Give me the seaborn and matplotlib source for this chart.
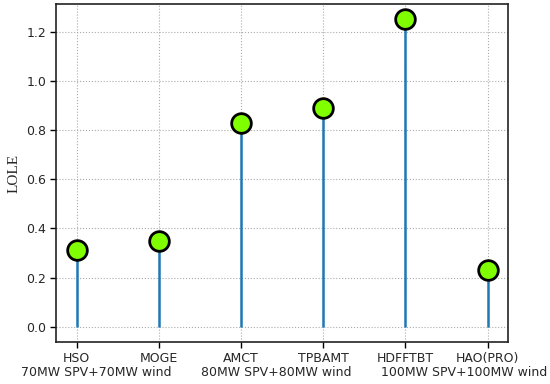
import matplotlib
matplotlib.use("Agg")
import matplotlib.pyplot as plt
import matplotlib.transforms as mtransforms
import seaborn as sns
import pandas as pd

methods = ["HSO", "MOGE", "AMCT", "TPBAMT", "HDFFTBT", "HAO(PRO)"]
lole = [0.31, 0.35, 0.83, 0.89, 1.25, 0.23]
groups = ["70MW SPV+70MW wind", "80MW SPV+80MW wind", "100MW SPV+100MW wind"]
group_pos = [0.24, 2.43, 4.71]

sns.set_style("white")
df = pd.DataFrame({"x": range(len(methods)), "LOLE": lole})

fig, ax = plt.subplots(figsize=(5.5, 3.84), dpi=100)
fig.subplots_adjust(left=0.102, right=0.924, top=0.99, bottom=0.109)

ax.vlines(df["x"], 0, df["LOLE"], color="#1f77b4", linewidth=1.8, zorder=2)
sns.scatterplot(data=df, x="x", y="LOLE", ax=ax, s=200, color="#7FFF00",
                edgecolor="black", linewidth=2, zorder=3, legend=False)
ax.set_ylim(-0.0625, 1.3125)
ax.set_xlim(-0.25, 5.25)
ax.set_xticks(range(len(methods)))
ax.set_xticklabels(methods, fontsize=9)
ax.set_yticks([0.0, 0.2, 0.4, 0.6, 0.8, 1.0, 1.2])
ax.set_yticklabels(["0.0", "0.2", "0.4", "0.6", "0.8", "1.0", "1.2"], fontsize=9)
ax.tick_params(axis="both", direction="out", length=4, width=1, color="black",
               bottom=True, left=True, pad=3)
ax.set_xlabel("")
ax.set_ylabel("LOLE", family="Liberation Serif", fontsize=11)
ax.grid(True, linestyle=":", color="#aaaaaa", linewidth=0.8)
for s in ax.spines.values():
    s.set_color("#222222")
    s.set_linewidth(1.2)

trans = mtransforms.blended_transform_factory(ax.transData, ax.transAxes)
for g, p in zip(groups, group_pos):
    ax.text(p, -0.089, g, ha="center", va="center", fontsize=9, transform=trans)

fig.savefig("out.png", dpi=100)
